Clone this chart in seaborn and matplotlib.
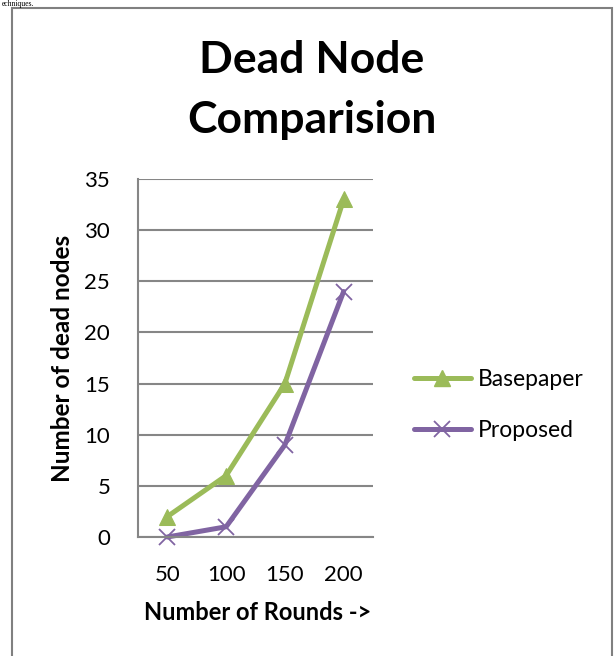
import matplotlib
matplotlib.use("Agg")
import matplotlib.pyplot as plt
import seaborn as sns
import pandas as pd
from matplotlib.lines import Line2D
from matplotlib.patches import Rectangle

rounds = ["50", "100", "150", "200"]
basepaper = [2, 6, 15, 33]
proposed = [0, 1, 9, 24]
series_names = ["Basepaper", "Proposed"]
y_ticks = [0, 5, 10, 15, 20, 25, 30, 35]

GREEN = "#9BBB59"
PURPLE = "#8064A2"
GRID = "#868686"

sns.set_theme(style="white")
plt.rcParams["font.family"] = ["Lato", "DejaVu Sans"]
plt.rcParams["text.color"] = "black"

df_b = pd.DataFrame({"Rounds": rounds, "Dead": basepaper})
df_p = pd.DataFrame({"Rounds": rounds, "Dead": proposed})

fig = plt.figure(figsize=(6.16, 6.56), dpi=100)
W, H = 616, 656
ax = fig.add_axes([138 / W, 1 - 537 / H, (373 - 138) / W, (537 - 179) / H])

LW = 3.6
sns.lineplot(data=df_b, x="Rounds", y="Dead", color=GREEN, marker="^",
             markersize=12, markeredgecolor=GREEN, markerfacecolor=GREEN,
             linewidth=LW, ax=ax, sort=False, clip_on=False)
sns.lineplot(data=df_p, x="Rounds", y="Dead", color=PURPLE, marker="x",
             markersize=12, markeredgewidth=1.3, markeredgecolor=PURPLE,
             linewidth=LW, ax=ax, sort=False, clip_on=False)

ax.set_xlim(-0.5, len(rounds) - 0.5)
ax.set_ylim(0, 35)
ax.set_yticks(y_ticks)
ax.set_xticks(range(len(rounds)))
ax.set_xticklabels(rounds)
ax.set_xticks([i - 0.5 for i in range(len(rounds) + 1)], minor=True)
ax.tick_params(axis="x", which="major", length=0, pad=20, labelsize=16, labelcolor="black")
ax.tick_params(axis="x", which="minor", length=8, width=1.5, color=GRID, direction="out")
ax.tick_params(axis="y", length=8, width=1.5, color=GRID, direction="out", pad=12,
               labelsize=16, labelcolor="black")
ax.yaxis.grid(True, color=GRID, linewidth=1.5)
ax.xaxis.grid(False)
for s in ["top", "right"]:
    ax.spines[s].set_visible(False)
for s in ["left", "bottom"]:
    ax.spines[s].set_color(GRID)
    ax.spines[s].set_linewidth(1.5)
ax.set_axisbelow(True)

ax.set_xlabel("")
ax.set_ylabel("")
fig.text(258 / W, 1 - 612 / H, "Number of Rounds ->", ha="center", va="center",
         fontsize=17, fontweight="bold", color="black")
fig.text(63 / W, 1 - 358 / H, "Number of dead nodes", ha="center", va="center",
         rotation=90, fontsize=17.5, fontweight="bold", color="black")
fig.text(312 / W, 1 - 60 / H, "Dead Node", ha="center", va="center",
         fontsize=32, fontweight="bold", color="black")
fig.text(312 / W, 1 - 120 / H, "Comparision", ha="center", va="center",
         fontsize=32, fontweight="bold", color="black")

handles = [Line2D([], [], color=GREEN, lw=LW, marker="^", markersize=12,
                  markerfacecolor=GREEN, markeredgecolor=GREEN),
           Line2D([], [], color=PURPLE, lw=LW, marker="x", markersize=12,
                  markeredgewidth=1.3, markeredgecolor=PURPLE)]
leg = fig.legend(handles, series_names, loc="center left",
                 bbox_to_anchor=(393 / W, 1 - 405 / H), frameon=False, fontsize=16.5,
                 handlelength=2.5, handletextpad=0.3, labelspacing=1.3)
for t in leg.get_texts():
    t.set_color("black")

fig.patches.append(Rectangle((12 / W, -0.02), (612 - 12) / W, 1 - 8 / H + 0.02,
                             transform=fig.transFigure, fill=False,
                             edgecolor="#808080", linewidth=1.5))
fig.text(2 / W, 1 - 0.5 / H, "echniques.", ha="left", va="top", fontsize=5.5,
         family="Liberation Serif", color="black")

fig.savefig("out.png", dpi=100)
